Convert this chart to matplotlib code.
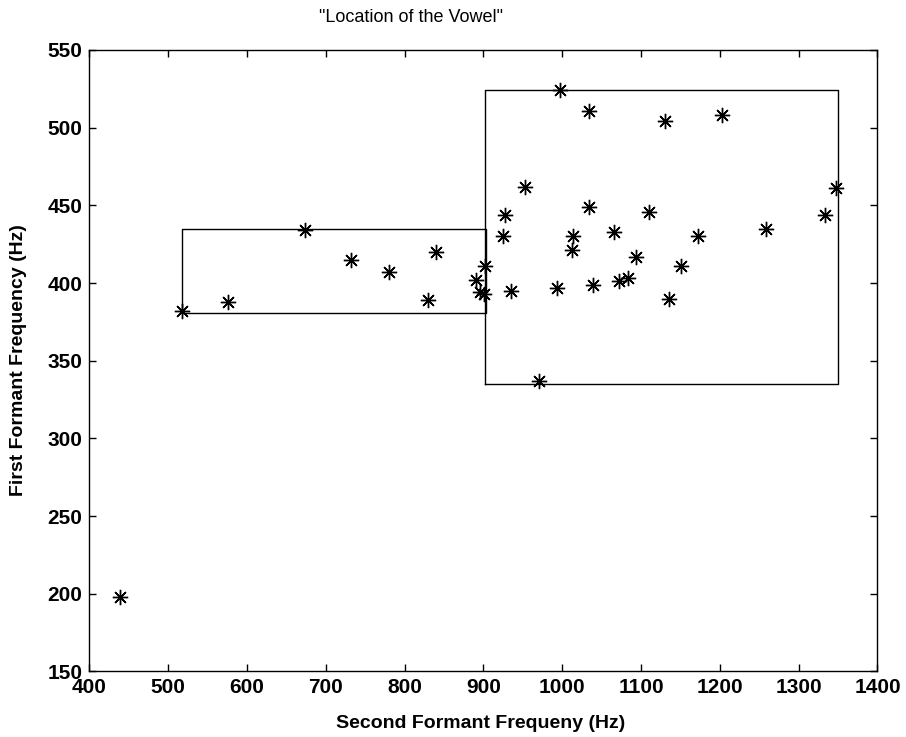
import numpy as np
import matplotlib.pyplot as plt

# second formant (x) and first formant (y) of each vowel token, in Hz
f2 = [517, 576, 674, 732, 780, 840, 830, 890, 902, 896, 901,
      997, 1034, 1131, 1203, 953, 1347, 927, 925, 1034, 1110,
      1014, 1013, 1066, 1172, 1258, 1334, 1094, 1151, 935, 994,
      1039, 1072, 1084, 1136, 971, 439]
f1 = [382, 388, 434, 415, 407, 420, 389, 402, 411, 394, 393,
      524, 511, 504, 508, 462, 461, 444, 430, 449, 446,
      430, 421, 433, 430, 435, 444, 417, 411, 395, 397,
      399, 401, 403, 390, 337, 198]

# vowel regions: (f2 min, f2 max, f1 min, f1 max)
region_a = [517, 903, 381, 435]
region_b = [902, 1350, 335, 524]

plt.rcParams['font.family'] = ['Liberation Sans', 'DejaVu Sans']

fig = plt.figure(figsize=(9.06, 7.37), dpi=100)
ax = fig.add_axes([0.0986, 0.0889, 0.8699, 0.8433])

def caja(ax, r):
    x0, x1, y0, y1 = r
    ax.plot([x0, x1, x1, x0, x0], [y0, y0, y1, y1, y0], color='black', lw=1.0)

caja(ax, region_a)
caja(ax, region_b)

ax.plot(f2, f1, linestyle='none', marker=(8, 2, 0), markersize=11,
        markeredgewidth=1.0, color='black')

ax.set_xlim(400, 1400)
ax.set_ylim(150, 550)
ax.set_xticks(np.arange(400, 1401, 100))
ax.set_yticks(np.arange(150, 551, 50))
ax.tick_params(direction='in', length=5, width=1, top=True, right=True,
               labelsize=15, pad=5)
for lab in ax.get_xticklabels() + ax.get_yticklabels():
    lab.set_fontweight('bold')
for s in ax.spines.values():
    s.set_linewidth(1.0)

fig.text(481 / 906, 1 - 723 / 737, 'Second Formant Frequeny (Hz)',
         ha='center', va='center', fontsize=14, fontweight='bold')
fig.text(19 / 906, 1 - 360 / 737, 'First Formant Frequency (Hz)',
         ha='center', va='center', rotation=90, fontsize=14, fontweight='bold')
fig.text(411 / 906, 1 - 17 / 737, '"Location of the Vowel"',
         ha='center', va='center', fontsize=13)

fig.savefig('out.png', dpi=100)
